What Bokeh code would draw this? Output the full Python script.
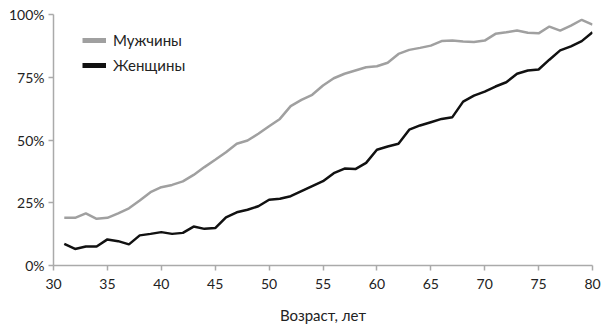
from bokeh.plotting import figure
from bokeh.models import ColumnDataSource, Legend, LegendItem, FixedTicker, CustomJSTickFormatter
from bokeh.embed import file_html
from bokeh.resources import INLINE

ages = list(range(31, 81))
men = [19.0, 19.0, 20.8, 18.6, 19.0, 20.8, 22.8, 25.9, 29.2, 31.2,
       32.1, 33.5, 36.1, 39.2, 42.1, 45.1, 48.5, 49.8, 52.5, 55.5,
       58.4, 63.5, 66.0, 68.0, 71.7, 74.6, 76.4, 77.7, 79.0, 79.4,
       80.8, 84.3, 85.9, 86.7, 87.6, 89.4, 89.6, 89.2, 89.0, 89.6,
       92.3, 92.9, 93.6, 92.7, 92.5, 95.2, 93.6, 95.6, 97.9, 96.0]
women = [8.6, 6.6, 7.6, 7.6, 10.4, 9.7, 8.4, 12.0, 12.6, 13.3,
         12.6, 13.0, 15.5, 14.6, 14.9, 19.2, 21.2, 22.2, 23.6, 26.2,
         26.6, 27.6, 29.6, 31.6, 33.6, 36.8, 38.6, 38.4, 40.9, 46.1,
         47.4, 48.5, 54.1, 55.8, 57.1, 58.4, 59.1, 65.3, 67.7, 69.3,
         71.3, 73.0, 76.4, 77.7, 78.1, 82.0, 85.7, 87.3, 89.4, 92.9]
x_ticks = [30, 35, 40, 45, 50, 55, 60, 65, 70, 75, 80]
y_ticks = [0, 25, 50, 75, 100]
series_names = ["Мужчины", "Женщины"]
x_label = "Возраст, лет"

FONT = "Lato"
GRAY = "#a0a0a0"
BLACK = "#111111"

src = ColumnDataSource(dict(age=ages, men=men, women=women))

p = figure(width=606, height=330, output_backend="svg", toolbar_location=None,
           x_range=(30, 80), y_range=(0, 100),
           min_border_left=53, min_border_right=14, min_border_top=14, min_border_bottom=65)
p.outline_line_color = None
p.xgrid.visible = False
p.ygrid.visible = False

p.line("age", "men", source=src, line_color=GRAY, line_width=2.5)
p.line("age", "women", source=src, line_color=BLACK, line_width=2.5)

# legend proxies (thicker swatches); NaN data so nothing is drawn in the plot
nan = float("nan")
lg_m = p.line(x=[nan], y=[nan], line_color=GRAY, line_width=5)
lg_w = p.line(x=[nan], y=[nan], line_color=BLACK, line_width=5)
legend = Legend(items=[LegendItem(label=series_names[0], renderers=[lg_m]),
                       LegendItem(label=series_names[1], renderers=[lg_w])],
                location=(29, 190), margin=0, padding=0, spacing=5,
                glyph_width=24, glyph_height=20, label_height=20, label_standoff=7,
                label_text_font=FONT, label_text_font_size="15px", label_text_color="#222222",
                border_line_color=None, background_fill_alpha=0)
p.add_layout(legend, "center")

for ax in (p.xaxis[0], p.yaxis[0]):
    ax.axis_line_color = "#aaaaaa"
    ax.axis_line_width = 1.5
    ax.major_tick_line_color = "#aaaaaa"
    ax.major_tick_line_width = 1.5
    ax.major_tick_out = 5
    ax.major_tick_in = 0
    ax.minor_tick_line_color = None
    ax.major_label_text_font = FONT
    ax.major_label_text_font_size = "14px"
    ax.major_label_text_color = "#222222"

p.xaxis.ticker = FixedTicker(ticks=x_ticks)
p.yaxis.ticker = FixedTicker(ticks=y_ticks)
p.yaxis.formatter = CustomJSTickFormatter(code="return tick + '%';")
p.xaxis.major_label_standoff = 8
p.yaxis.major_label_standoff = 4
p.xaxis.axis_label = x_label
p.xaxis.axis_label_text_font = FONT
p.xaxis.axis_label_text_font_size = "15px"
p.xaxis.axis_label_text_font_style = "normal"
p.xaxis.axis_label_text_color = "#222222"
p.xaxis.axis_label_standoff = 14

open("out.html", "w").write(file_html(p, INLINE))
